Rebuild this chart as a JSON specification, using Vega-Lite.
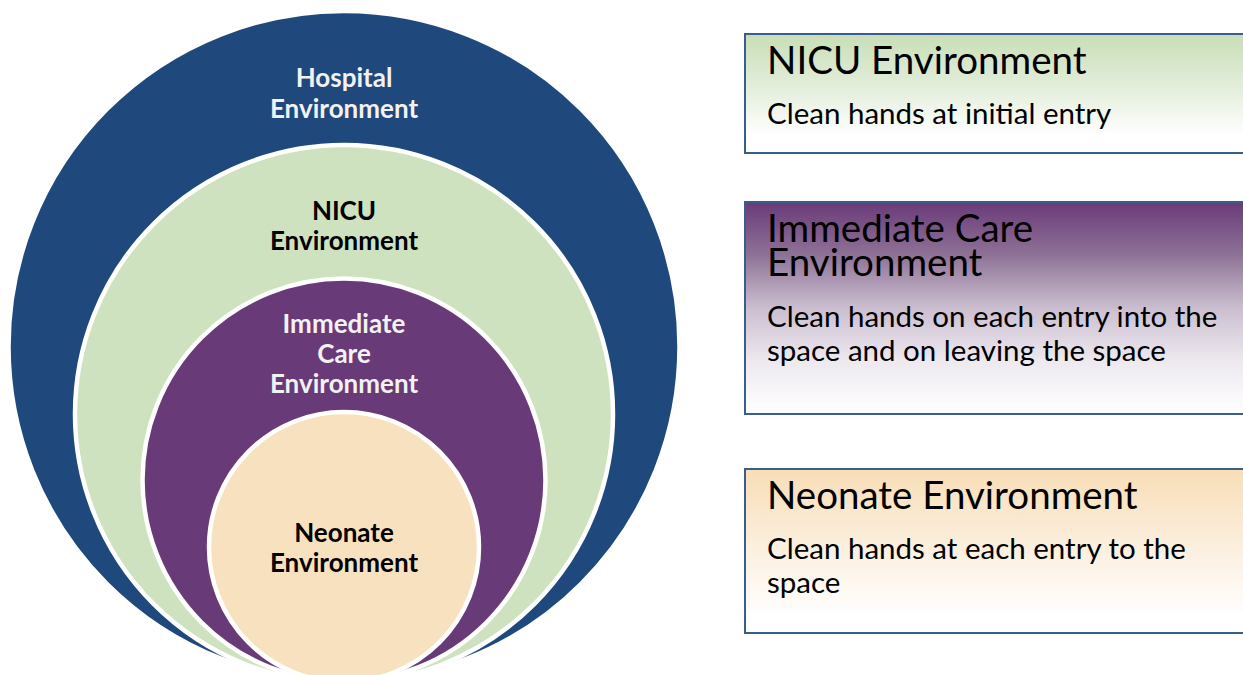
{
  "$schema": "https://vega.github.io/schema/vega-lite/v6.json",
  "width": 1243,
  "height": 675,
  "padding": 0,
  "autosize": {"type": "none"},
  "background": "#FFFFFF",
  "config": {"view": {"stroke": null}},
  "resolve": {"scale": {"color": "independent"}},
  "datasets": {
    "circles": [
      {"name": "Hospital", "cx": 344, "cy": 346.5, "r": 335.5},
      {"name": "NICU", "cx": 344, "cy": 414, "r": 269},
      {"name": "Immediate", "cx": 344, "cy": 480, "r": 201.5},
      {"name": "Neonate", "cx": 344, "cy": 547, "r": 135}
    ],
    "boxes": [
      {"name": "NICU", "x1": 745, "x2": 1260, "y1": 34, "y2": 153},
      {"name": "Immediate", "x1": 745, "x2": 1260, "y1": 202, "y2": 414},
      {"name": "Neonate", "x1": 745, "x2": 1260, "y1": 469, "y2": 633}
    ],
    "labels": [
      {"kind": "circle", "tone": "light", "text": "Hospital", "x": 344, "y": 87},
      {"kind": "circle", "tone": "light", "text": "Environment", "x": 344, "y": 118},
      {"kind": "circle", "tone": "dark", "text": "NICU", "x": 344, "y": 220},
      {"kind": "circle", "tone": "dark", "text": "Environment", "x": 344, "y": 250},
      {"kind": "circle", "tone": "light", "text": "Immediate", "x": 344, "y": 333},
      {"kind": "circle", "tone": "light", "text": "Care", "x": 344, "y": 363},
      {"kind": "circle", "tone": "light", "text": "Environment", "x": 344, "y": 393},
      {"kind": "circle", "tone": "dark", "text": "Neonate", "x": 344, "y": 542},
      {"kind": "circle", "tone": "dark", "text": "Environment", "x": 344, "y": 572},
      {"kind": "title", "tone": "dark", "text": "NICU Environment", "x": 767, "y": 74},
      {"kind": "body", "tone": "dark", "text": "Clean hands at initial entry", "x": 767, "y": 124},
      {"kind": "title", "tone": "dark", "text": "Immediate Care", "x": 767, "y": 242},
      {"kind": "title", "tone": "dark", "text": "Environment", "x": 767, "y": 276},
      {"kind": "body", "tone": "dark", "text": "Clean hands on each entry into the", "x": 767, "y": 327},
      {"kind": "body", "tone": "dark", "text": "space and on leaving the space", "x": 767, "y": 361},
      {"kind": "title", "tone": "dark", "text": "Neonate Environment", "x": 767, "y": 509},
      {"kind": "body", "tone": "dark", "text": "Clean hands at each entry to the", "x": 767, "y": 559},
      {"kind": "body", "tone": "dark", "text": "space", "x": 767, "y": 593}
    ]
  },
  "encoding": {
    "x": {"type": "quantitative", "scale": {"domain": [0, 1243], "range": [0, 1243], "nice": false, "zero": false}, "axis": null},
    "y": {"type": "quantitative", "scale": {"domain": [0, 675], "range": [0, 675], "nice": false, "zero": false}, "axis": null}
  },
  "layer": [
    {
      "data": {"name": "circles"},
      "mark": {"type": "point", "shape": "circle", "filled": true, "opacity": 1, "stroke": "#FFFFFF", "strokeWidth": 4.5, "strokeOpacity": 1, "clip": true},
      "encoding": {
        "x": {"field": "cx", "type": "quantitative"},
        "y": {"field": "cy", "type": "quantitative"},
        "size": {"field": "r", "type": "quantitative", "legend": null, "scale": {"type": "pow", "exponent": 2, "domain": [0, 1000], "range": [0, 4000000], "zero": true}},
        "fill": {"field": "name", "type": "nominal", "legend": null, "scale": {"domain": ["Hospital", "NICU", "Immediate", "Neonate"], "range": ["#1F497D", "#CFE2BF", "#693A78", "#F8E1BE"]}}
      }
    },
    {
      "data": {"name": "boxes"},
      "transform": [{"filter": "datum.name === 'NICU'"}],
      "mark": {"type": "rect", "clip": true, "stroke": "#3A5E8C", "strokeWidth": 2,
        "fill": {"gradient": "linear", "x1": 0, "y1": 0, "x2": 0, "y2": 1, "stops": [{"offset": 0, "color": "#C8DEB7"}, {"offset": 0.45, "color": "#E3EEDA"}, {"offset": 0.85, "color": "#FFFFFF"}, {"offset": 1, "color": "#FFFFFF"}]}},
      "encoding": {
        "x": {"field": "x1", "type": "quantitative"},
        "x2": {"field": "x2"},
        "y": {"field": "y1", "type": "quantitative"},
        "y2": {"field": "y2"}
      }
    },
    {
      "data": {"name": "boxes"},
      "transform": [{"filter": "datum.name === 'Immediate'"}],
      "mark": {"type": "rect", "clip": true, "stroke": "#3A5E8C", "strokeWidth": 2,
        "fill": {"gradient": "linear", "x1": 0, "y1": 0, "x2": 0, "y2": 1, "stops": [{"offset": 0, "color": "#6A3A79"}, {"offset": 0.25, "color": "#8E7296"}, {"offset": 0.5, "color": "#CBBED0"}, {"offset": 0.75, "color": "#EDE9EF"}, {"offset": 1, "color": "#FFFFFF"}]}},
      "encoding": {
        "x": {"field": "x1", "type": "quantitative"},
        "x2": {"field": "x2"},
        "y": {"field": "y1", "type": "quantitative"},
        "y2": {"field": "y2"}
      }
    },
    {
      "data": {"name": "boxes"},
      "transform": [{"filter": "datum.name === 'Neonate'"}],
      "mark": {"type": "rect", "clip": true, "stroke": "#3A5E8C", "strokeWidth": 2,
        "fill": {"gradient": "linear", "x1": 0, "y1": 0, "x2": 0, "y2": 1, "stops": [{"offset": 0, "color": "#F8DDB6"}, {"offset": 0.45, "color": "#FBEEDC"}, {"offset": 0.9, "color": "#FFFFFF"}, {"offset": 1, "color": "#FFFFFF"}]}},
      "encoding": {
        "x": {"field": "x1", "type": "quantitative"},
        "x2": {"field": "x2"},
        "y": {"field": "y1", "type": "quantitative"},
        "y2": {"field": "y2"}
      }
    },
    {
      "data": {"name": "labels"},
      "transform": [{"filter": "datum.kind === 'circle'"}],
      "mark": {"type": "text", "font": "Lato", "fontWeight": "bold", "fontSize": 26, "align": "center", "baseline": "alphabetic"},
      "encoding": {
        "x": {"field": "x", "type": "quantitative"},
        "y": {"field": "y", "type": "quantitative"},
        "text": {"field": "text"},
        "color": {"field": "tone", "type": "nominal", "legend": null, "scale": {"domain": ["light", "dark"], "range": ["#F2F2F2", "#000000"]}}
      }
    },
    {
      "data": {"name": "labels"},
      "transform": [{"filter": "datum.kind === 'title'"}],
      "mark": {"type": "text", "font": "Lato", "fontSize": 38.5, "align": "left", "baseline": "alphabetic", "color": "#000000"},
      "encoding": {
        "x": {"field": "x", "type": "quantitative"},
        "y": {"field": "y", "type": "quantitative"},
        "text": {"field": "text"}
      }
    },
    {
      "data": {"name": "labels"},
      "transform": [{"filter": "datum.kind === 'body'"}],
      "mark": {"type": "text", "font": "Lato", "fontSize": 29.5, "align": "left", "baseline": "alphabetic", "color": "#000000"},
      "encoding": {
        "x": {"field": "x", "type": "quantitative"},
        "y": {"field": "y", "type": "quantitative"},
        "text": {"field": "text"}
      }
    }
  ]
}
